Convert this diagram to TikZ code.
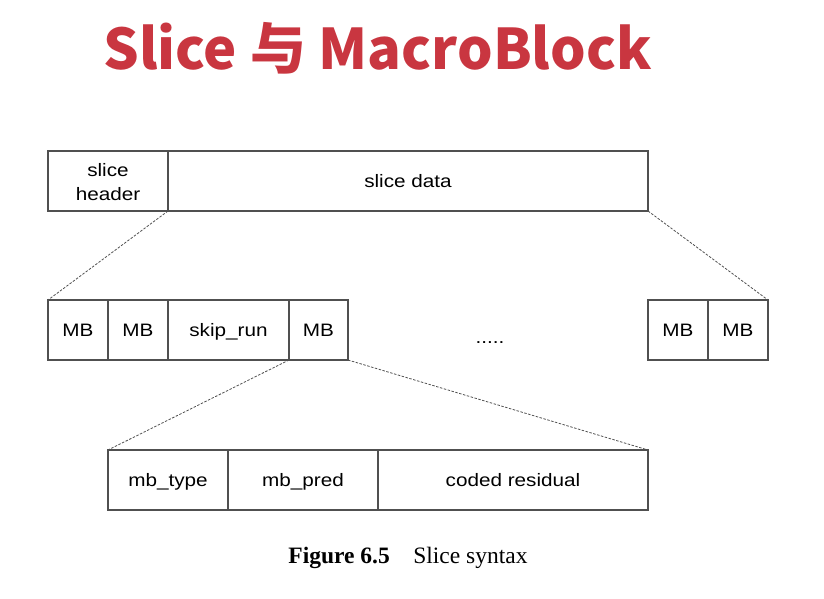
\documentclass[tikz,border=0pt]{standalone}
\usepackage{fontspec}
\setmainfont{Liberation Serif}
\setsansfont[FakeStretch=1.15]{Liberation Sans}
\newfontfamily\cjk{Noto Sans CJK SC}
\usetikzlibrary{positioning}
\definecolor{titlered}{RGB}{201,54,64}
\definecolor{boxline}{RGB}{80,80,80}

\begin{document}
\begin{tikzpicture}[
    x=1pt, y=-1pt,
    every node/.append style = {font=\sffamily\fontsize{18}{24}\selectfont},
    cell/.style = {draw=boxline, line width=1.1pt, minimum height=60,
      inner sep=0pt, outer sep=0pt, align=center,
      text height=13, text depth=0},
    zoomline/.style = {draw=boxline, line width=0.8pt,
      dash pattern=on 2.5pt off 1.5pt}
  ]
  \useasboundingbox (0,0) rectangle (824,599);
  \node[font=\cjk\bfseries\fontsize{56}{64}\selectfont, text=titlered,
    anchor=base] (title) at (377.5,70) {Slice 与 MacroBlock};
  % slice
  \node[cell, minimum width=120, text height=39, anchor=north west] (hdr)
    at (48,151) {slice\\header};
  \node[cell, minimum width=480, right=0pt of hdr] (data) {slice data};
  % macroblocks
  \node[cell, minimum width=60, anchor=north west] (mb1) at (48,300) {MB};
  \node[cell, minimum width=60, right=0pt of mb1] (mb2) {MB};
  \node[cell, minimum width=121, right=0pt of mb2] (skip) {skip\_run};
  \node[cell, minimum width=59, right=0pt of skip] (mb3) {MB};
  \node[anchor=base] (dots) at (490,343) {.....};
  \node[cell, minimum width=60, anchor=north west] (mb4) at (648,300) {MB};
  \node[cell, minimum width=60, right=0pt of mb4] (mb5) {MB};
  % macroblock contents
  \node[cell, minimum width=120, anchor=north west] (type) at (108,450)
    {mb\_type};
  \node[cell, minimum width=150, right=0pt of type] (pred) {mb\_pred};
  \node[cell, minimum width=270, right=0pt of pred] (resid) {coded residual};
  % zoom lines
  \draw[zoomline] (hdr.south east) -- (mb1.north west);
  \draw[zoomline] (data.south east) -- (mb5.north east);
  \draw[zoomline] (mb3.south west) -- (type.north west);
  \draw[zoomline] (mb3.south east) -- (resid.north east);
  % caption
  \node[font=\rmfamily\fontsize{23.5}{26}\selectfont, anchor=base]
    (caption) at (408,563) {\textbf{Figure 6.5}\quad Slice syntax};
\end{tikzpicture}
\end{document}
